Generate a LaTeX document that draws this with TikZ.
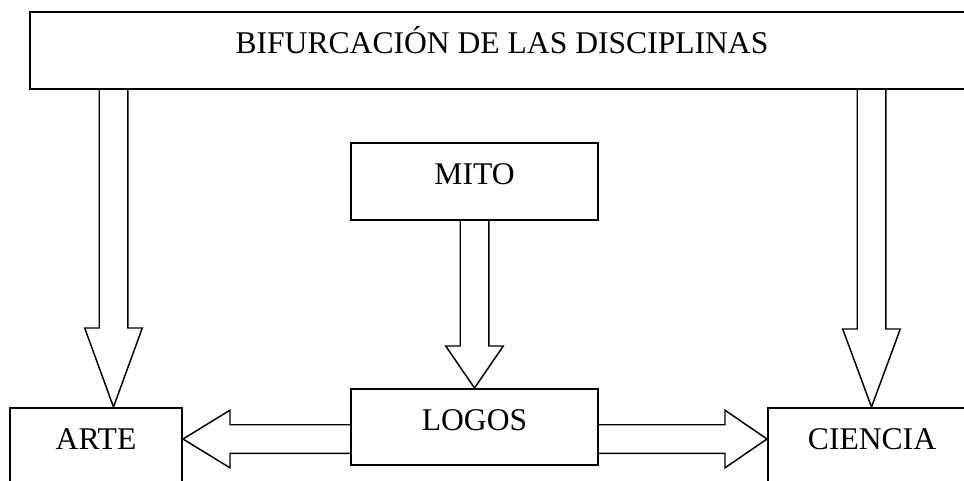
\documentclass[tikz,border=0pt]{standalone}
\usepackage{fontspec}
\setmainfont{Liberation Serif}
\usetikzlibrary{calc,positioning}

% hollow block arrow: #1 head length, #2 from, #3 to
\newcommand{\blockarrow}[3]{%
  \coordinate (ba-s) at #2;
  \coordinate (ba-t) at #3;
  \coordinate (ba-b) at ($(ba-t)!#1!(ba-s)$);
  \draw[arr] ($(ba-s)!10.7pt!90:(ba-t)$) -- ($(ba-b)!10.7pt!90:(ba-t)$)
    -- ($(ba-b)!21.6pt!90:(ba-t)$) -- (ba-t) -- ($(ba-b)!21.6pt!-90:(ba-t)$)
    -- ($(ba-b)!10.7pt!-90:(ba-t)$) -- ($(ba-s)!10.7pt!-90:(ba-t)$);
}

\begin{document}
\begin{tikzpicture}[x=0.75pt,y=-0.75pt,
      box/.style={rectangle, draw=black, line width=1.5pt, inner sep=0pt,
        anchor=north west, text height=30.75pt, font=\fontsize{23.7pt}{28pt}\selectfont},
      arr/.style={draw=black, line width=1.1pt, line join=miter}
      ]
      \useasboundingbox (0,0) rectangle (964,480);
      \node (bif)  [box, minimum width=708pt, text depth=27pt] at (29,11) {BIFURCACIÓN DE LAS DISCIPLINAS};
      \node (mito) [box, minimum width=185.25pt, text depth=27pt] at (350,142) {MITO};
      \node (logos) [box, minimum width=185.25pt, text depth=26.25pt] at (350,388) {LOGOS};
      \node (arte) [box, minimum width=129pt, text depth=31.5pt] at (9,407) {ARTE};
      \node (ciencia) [box, minimum width=156pt, text depth=31.5pt] at (767,407) {CIENCIA};
      \coordinate (lx) at (113.5,0);
      \coordinate (rx) at (871.5,0);
      \coordinate (hy) at (0,439);
      \blockarrow{59.25pt}{(lx |- bif.south)}{(lx |- arte.north)}
      \blockarrow{58.5pt}{(rx |- bif.south)}{(rx |- ciencia.north)}
      \blockarrow{31.5pt}{(mito.south)}{(logos.north)}
      \blockarrow{35.25pt}{(logos.west |- hy)}{(arte.east |- hy)}
      \blockarrow{31.5pt}{(logos.east |- hy)}{(ciencia.west |- hy)}
\end{tikzpicture}
\end{document}
